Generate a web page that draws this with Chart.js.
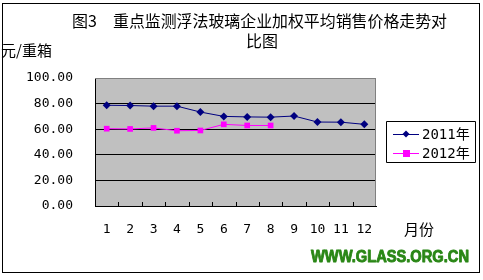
<!DOCTYPE html>
<html>
<head>
<meta charset="utf-8">
<script src="https://cdn.jsdelivr.net/npm/chart.js@4"></script>
<style>
  html, body { margin: 0; padding: 0; background: #fff; }
  #wrap { width: 483px; height: 280px; }
</style>
</head>
<body>
<div id="wrap"><canvas id="priceChart" width="483" height="280"></canvas></div>
<script>
// ===== data =====
const months = ["1", "2", "3", "4", "5", "6", "7", "8", "9", "10", "11", "12"];
const price2011 = [78.7, 78.5, 78.0, 78.0, 73.4, 70.0, 69.6, 69.4, 70.3, 65.6, 65.5, 63.8];
const price2012 = [60.4, 60.2, 61.0, 58.8, 59.0, 63.8, 62.9, 62.9];
const seriesNames = ["2011年", "2012年"];
const yTicks = [0, 20, 40, 60, 80, 100];

const titleLine1a = "图3";
const titleLine1b = "重点监测浮法玻璃企业加权平均销售价格走势对";
const titleLine2 = "比图";
const yUnit = "元/重箱";
const xUnit = "月份";
const siteText = "WWW.GLASS.ORG.CN";

const CJK = '"Noto Sans CJK SC", sans-serif';
const MONO = '"DejaVu Sans Mono", "Noto Sans CJK SC", monospace';

// ===== extras: frame, plot fill, texts, legend =====
const decorPlugin = {
    id: "decor",
    beforeDraw(chart) {
        const { ctx, chartArea: a } = chart;
        ctx.save();
        ctx.fillStyle = "#fff";
        ctx.fillRect(0, 0, chart.width, chart.height);
        ctx.fillStyle = "#C0C0C0";
        ctx.fillRect(a.left, a.top, a.right - a.left, a.bottom - a.top);
        ctx.restore();
    },
    beforeDatasetsDraw(chart) {
        const { ctx, chartArea: a } = chart;
        ctx.save();
        // top / right border of plot
        ctx.strokeStyle = "#808080";
        ctx.lineWidth = 1;
        ctx.beginPath();
        ctx.moveTo(a.left, a.top + 0.5);
        ctx.lineTo(a.right - 0.5, a.top + 0.5);
        ctx.lineTo(a.right - 0.5, a.bottom);
        ctx.stroke();
        // small inside ticks on category boundaries
        ctx.strokeStyle = "#000";
        const step = (a.right - a.left) / months.length;
        ctx.beginPath();
        for (let i = 1; i < months.length; i++) {
            const x = Math.round(a.left + i * step) + 0.5;
            ctx.moveTo(x, a.bottom);
            ctx.lineTo(x, a.bottom - 4);
        }
        ctx.stroke();
        ctx.restore();
    },
    afterDraw(chart) {
        const { ctx } = chart;
        ctx.save();
        // outer frame
        ctx.strokeStyle = "#000";
        ctx.lineWidth = 1;
        ctx.strokeRect(2.5, 3.5, 477, 269);

        // title
        ctx.fillStyle = "#000";
        ctx.textBaseline = "middle";
        ctx.textAlign = "left";
        ctx.font = "16px " + CJK;
        ctx.fillText(titleLine1a, 72, 21);
        ctx.fillText(titleLine1b, 113, 21, 334);
        ctx.fillText(titleLine2, 246, 41);
        ctx.font = "15px " + CJK;
        ctx.fillText(yUnit, 1, 50);
        ctx.fillText(xUnit, 404, 229);

        // site mark (thickened)
        ctx.fillStyle = "#2A8716";
        ctx.strokeStyle = "#2A8716";
        ctx.lineWidth = 0.9;
        ctx.lineJoin = "round";
        ctx.font = "bold 16px 'Liberation Sans', Arial, sans-serif";
        ctx.fillText(siteText, 311, 258, 158);
        ctx.strokeText(siteText, 311, 258, 158);

        // legend
        const lx = 386, ly = 121, lw = 89, lh = 41;
        ctx.lineWidth = 1;
        ctx.fillStyle = "#fff";
        ctx.fillRect(lx, ly, lw, lh);
        ctx.strokeStyle = "#000";
        ctx.strokeRect(lx + 0.5, ly + 0.5, lw, lh);
        chart.data.datasets.forEach((ds, i) => {
            const y = 134 + i * 19;
            ctx.strokeStyle = ds.borderColor;
            ctx.lineWidth = 1;
            ctx.beginPath();
            ctx.moveTo(393, y + 0.5);
            ctx.lineTo(419, y + 0.5);
            ctx.stroke();
            ctx.fillStyle = ds.backgroundColor;
            if (ds.pointStyle === "rectRot") {
                ctx.beginPath();
                ctx.moveTo(406, y - 3.5);
                ctx.lineTo(409.5, y);
                ctx.lineTo(406, y + 3.5);
                ctx.lineTo(402.5, y);
                ctx.closePath();
                ctx.fill();
            } else {
                ctx.fillRect(403, y - 3, 7, 7);
            }
            ctx.fillStyle = "#000";
            ctx.font = "14px " + MONO;
            ctx.fillText(ds.label, 422, y + 1);
        });
        ctx.restore();
    }
};

new Chart(document.getElementById("priceChart"), {
    type: "line",
    data: {
        labels: months,
        datasets: [
            {
                label: seriesNames[0],
                data: price2011,
                borderColor: "#000080",
                backgroundColor: "#000080",
                borderWidth: 1,
                pointStyle: "rectRot",
                pointRadius: 4,
                pointBorderWidth: 0,
                tension: 0
            },
            {
                label: seriesNames[1],
                data: price2012,
                borderColor: "#FF00FF",
                backgroundColor: "#FF00FF",
                borderWidth: 1,
                pointStyle: "rect",
                pointRadius: 4,
                pointBorderWidth: 0,
                tension: 0
            }
        ]
    },
    options: {
        responsive: false,
        animation: false,
        layout: { padding: { left: 0, top: 78, right: 107, bottom: 0 } },
        plugins: {
            legend: { display: false },
            tooltip: { enabled: false },
            title: { display: false }
        },
        scales: {
            x: {
                offset: true,
                grid: { display: false, drawTicks: false },
                border: { color: "#000", width: 1 },
                ticks: {
                    color: "#000",
                    font: { family: MONO, size: 13 },
                    padding: 16,
                    maxRotation: 0
                },
                afterFit(scale) { scale.height = 74; }
            },
            y: {
                min: 0,
                max: 100,
                afterBuildTicks(scale) { scale.ticks = yTicks.map(v => ({ value: v })); },
                grid: {
                    drawTicks: false,
                    color: ctx => (ctx.tick && ctx.tick.value === 100 ? "#808080" : "#000"),
                    lineWidth: 1
                },
                border: { color: "#000", width: 1 },
                ticks: {
                    color: "#000",
                    font: { family: MONO, size: 13 },
                    padding: 22,
                    callback: v => Number(v).toFixed(2)
                },
                afterFit(scale) { scale.width = 95; }
            }
        }
    },
    plugins: [decorPlugin]
});
</script>
</body>
</html>
